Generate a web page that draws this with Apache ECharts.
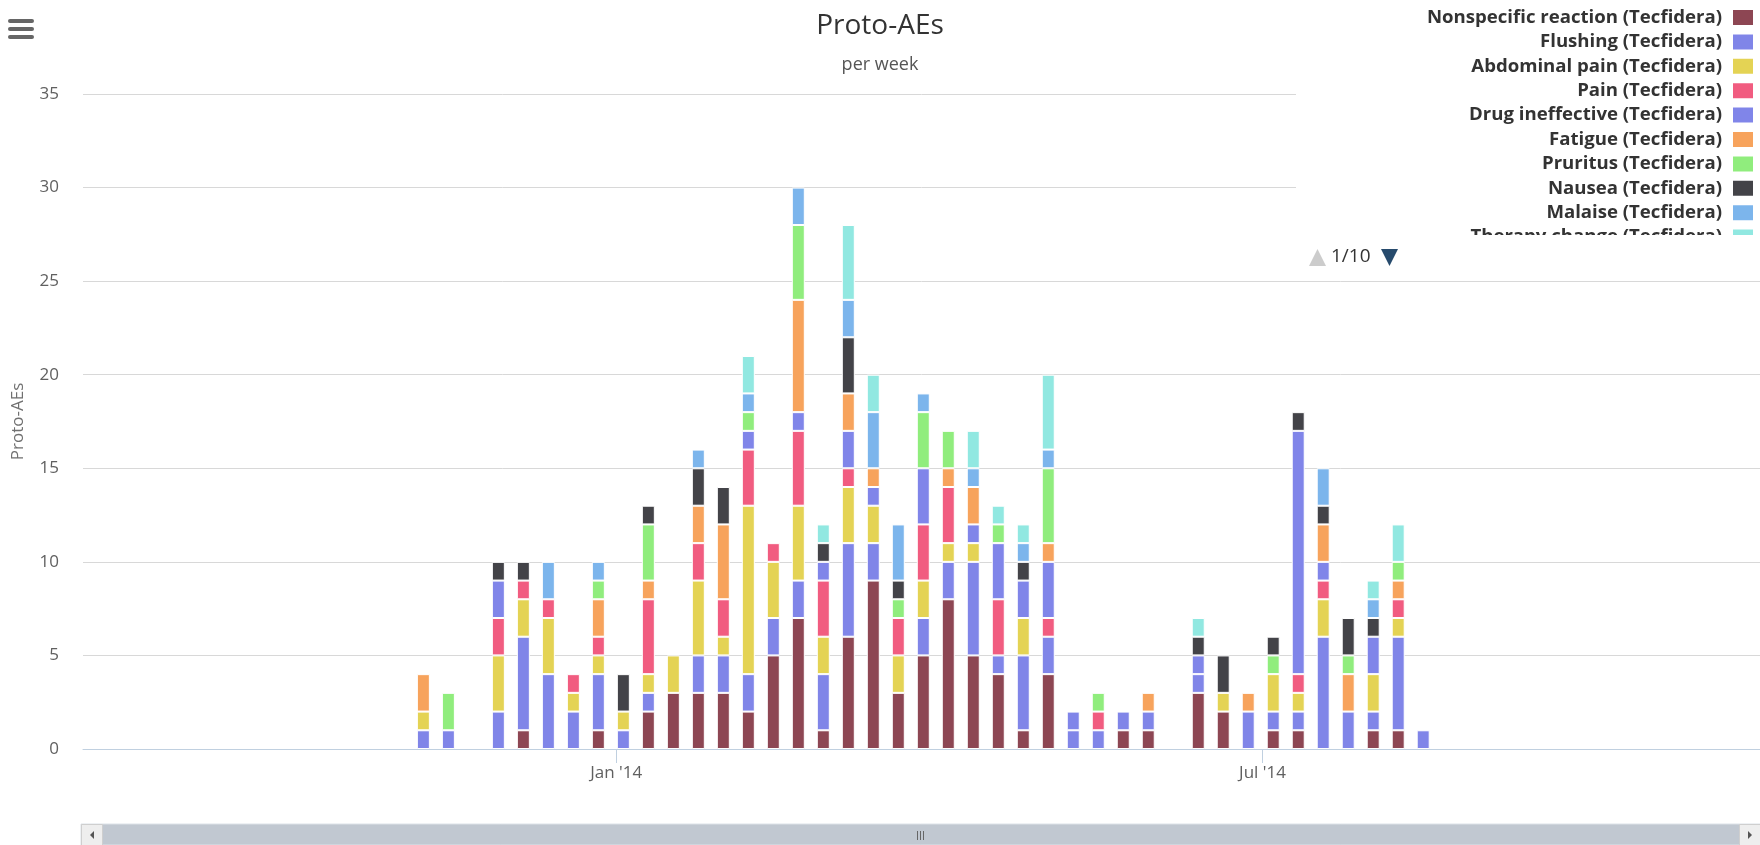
<!DOCTYPE html>
<html>
<head>
<meta charset="utf-8">
<script src="https://cdn.jsdelivr.net/npm/echarts@6.0.0/dist/echarts.min.js"></script>
<style>
  html, body { margin: 0; padding: 0; background: #fff; }
  #chart { width: 1760px; height: 845px; }
</style>
</head>
<body>
<div id="chart"></div>
<script>
// ---- data (weekly counts) ----
const weeks = ['2013-11-08','2013-11-15','2013-11-22','2013-11-29','2013-12-06','2013-12-13','2013-12-20','2013-12-27',
  '2014-01-03','2014-01-10','2014-01-17','2014-01-24','2014-01-31','2014-02-07','2014-02-14','2014-02-21','2014-02-28',
  '2014-03-07','2014-03-14','2014-03-21','2014-03-28','2014-04-04','2014-04-11','2014-04-18','2014-04-25',
  '2014-05-02','2014-05-09','2014-05-16','2014-05-23','2014-05-30','2014-06-06','2014-06-13','2014-06-20','2014-06-27',
  '2014-07-04','2014-07-11','2014-07-18','2014-07-25','2014-08-01','2014-08-08','2014-08-15'];

const nonspecificReaction = [0,0,0,0,1,0,0,1,0,2,3,3,3,2,5,7,1,6,9,3,5,8,5,4,1,4,0,0,1,1,0,3,2,0,1,1,0,0,1,1,0];
const flushing            = [1,1,0,2,5,4,2,3,1,1,0,2,2,2,2,2,3,5,2,0,2,2,5,1,4,2,1,1,1,1,0,1,0,2,1,1,6,2,1,5,1];
const abdominalPain       = [1,0,0,3,2,3,1,1,1,1,2,4,1,9,3,4,2,3,2,2,2,1,1,0,2,0,0,0,0,0,0,0,1,0,2,1,2,0,2,1,0];
const pain                = [0,0,0,2,1,1,1,1,0,4,0,2,2,3,1,4,3,1,0,2,3,3,0,3,0,1,0,1,0,0,0,0,0,0,0,1,1,0,0,1,0];
const drugIneffective     = [0,0,0,2,0,0,0,0,0,0,0,0,0,1,0,1,1,2,1,0,3,0,1,3,2,3,1,0,0,0,0,1,0,0,0,13,1,0,2,0,0];
const fatigue             = [2,0,0,0,0,0,0,2,0,1,0,2,4,0,0,6,0,2,1,0,0,1,2,0,0,1,0,0,0,1,0,0,0,1,0,0,2,2,0,1,0];
const pruritus            = [0,2,0,0,0,0,0,1,0,3,0,0,0,1,0,4,0,0,0,1,3,2,0,1,0,4,0,1,0,0,0,0,0,0,1,0,0,1,0,1,0];
const nausea              = [0,0,0,1,1,0,0,0,2,1,0,2,2,0,0,0,1,3,0,1,0,0,0,0,1,0,0,0,0,0,0,1,2,0,1,1,1,2,1,0,0];
const malaise             = [0,0,0,0,0,2,0,1,0,0,0,1,0,1,0,2,0,2,3,3,1,0,1,0,1,1,0,0,0,0,0,0,0,0,0,0,2,0,1,0,0];
const therapyChange       = [0,0,0,0,0,0,0,0,0,0,0,0,0,2,0,0,1,4,2,0,0,0,2,1,1,4,0,0,0,0,0,1,0,0,0,0,0,0,1,2,0];

const seriesNames = ['Nonspecific reaction (Tecfidera)','Flushing (Tecfidera)','Abdominal pain (Tecfidera)','Pain (Tecfidera)',
  'Drug ineffective (Tecfidera)','Fatigue (Tecfidera)','Pruritus (Tecfidera)','Nausea (Tecfidera)','Malaise (Tecfidera)',
  'Therapy change (Tecfidera)'];
const seriesColors = ['#8d4653','#8085e8','#e4d354','#f15c80','#8085e9','#f7a35c','#90ed7d','#434348','#7cb5ec','#91e8e1'];
const seriesValues = [nonspecificReaction, flushing, abdominalPain, pain, drugIneffective, fatigue, pruritus, nausea, malaise, therapyChange];

const xTickDates = ['2014-01-01', '2014-07-01'];
const yTicks = [0, 5, 10, 15, 20, 25, 30, 35];

const FONT = 'Open Sans';
const chart = echarts.init(document.getElementById('chart'), null, { renderer: 'canvas' });

const series = seriesNames.map((name, k) => ({
  name: name,
  type: 'bar',
  stack: 'total',
  barWidth: 13,
  itemStyle: { color: seriesColors[k], borderColor: '#ffffff', borderWidth: 1 },
  emphasis: { disabled: true },
  data: weeks.map((d, i) => [d, seriesValues[k][i] || null])
}));

const W = 1760;
const graphic = [
  // hamburger menu
  { type: 'rect', left: 8, top: 19, shape: { width: 26, height: 4, r: 2 }, style: { fill: '#666' }, z: 50 },
  { type: 'rect', left: 8, top: 27, shape: { width: 26, height: 4, r: 2 }, style: { fill: '#666' }, z: 50 },
  { type: 'rect', left: 8, top: 35, shape: { width: 26, height: 4, r: 2 }, style: { fill: '#666' }, z: 50 },
  // legend box background (hides grid lines behind legend)
  { type: 'rect', shape: { x: 1296, y: 0, width: W - 1296, height: 274 }, style: { fill: '#fff' }, z: 1 },
  // legend clip for the partially visible item
  { type: 'rect', shape: { x: 1296, y: 235, width: W - 1296, height: 12 }, style: { fill: '#fff' }, z: 100 },
  // legend pager
  { type: 'polygon', shape: { points: [[1317.5, 249], [1326, 266], [1309, 266]] }, style: { fill: '#cccccc' }, z: 101 },
  { type: 'text', style: { x: 1331, y: 257, text: '1/10', fill: '#333', font: '19px "' + FONT + '"', verticalAlign: 'middle' }, z: 101 },
  { type: 'polygon', shape: { points: [[1381, 249], [1398, 249], [1389.5, 266]] }, style: { fill: '#274b6d' }, z: 101 },
  // scrollbar
  { type: 'rect', shape: { x: 81, y: 824, width: W - 81, height: 21 }, style: { fill: '#c1c8d1', stroke: '#dde2e8', lineWidth: 1 }, z: 50 },
  { type: 'rect', shape: { x: 81.5, y: 824.5, width: 21, height: 21 }, style: { fill: '#eeeeee', stroke: '#cfcfcf', lineWidth: 1 }, z: 51 },
  { type: 'polygon', shape: { points: [[90, 835], [94, 831], [94, 839]] }, style: { fill: '#555' }, z: 52 },
  { type: 'rect', shape: { x: 1739.5, y: 824.5, width: 21, height: 21 }, style: { fill: '#eeeeee', stroke: '#cfcfcf', lineWidth: 1 }, z: 51 },
  { type: 'polygon', shape: { points: [[1752, 835], [1748, 831], [1748, 839]] }, style: { fill: '#555' }, z: 52 },
  { type: 'line', shape: { x1: 917.5, y1: 831, x2: 917.5, y2: 840 }, style: { stroke: '#666', lineWidth: 1 }, z: 52 },
  { type: 'line', shape: { x1: 920.5, y1: 831, x2: 920.5, y2: 840 }, style: { stroke: '#666', lineWidth: 1 }, z: 52 },
  { type: 'line', shape: { x1: 923.5, y1: 831, x2: 923.5, y2: 840 }, style: { stroke: '#666', lineWidth: 1 }, z: 52 }
];

chart.setOption({
  animation: false,
  backgroundColor: '#ffffff',
  title: {
    text: 'Proto-AEs',
    subtext: 'per week',
    left: 'center',
    top: 5,
    itemGap: 12,
    textStyle: { fontFamily: FONT, fontSize: 28, fontWeight: 'normal', color: '#333333', lineHeight: 32 },
    subtextStyle: { fontFamily: FONT, fontSize: 18, color: '#555555', lineHeight: 22 }
  },
  legend: {
    orient: 'vertical',
    right: 5,
    top: 8,
    padding: 0,
    align: 'right',
    icon: 'rect',
    itemWidth: 22,
    itemHeight: 17,
    itemGap: 5.4,
    selectedMode: false,
    data: seriesNames,
    textStyle: { fontFamily: FONT, fontWeight: 'bold', fontSize: 18.6, color: '#333333', lineHeight: 18, padding: [0, 5, 0, 0] }
  },
  grid: { left: 83, right: 0, top: 94, bottom: 96, containLabel: false },
  xAxis: {
    type: 'time',
    min: '2013-08-06 12:00',
    max: '2014-11-15 12:00',
    axisLine: { show: true, lineStyle: { color: '#c0d0e0', width: 1 } },
    axisTick: { show: true, length: 14, lineStyle: { color: '#c0d0e0' }, customValues: xTickDates.map(d => +echarts.time.parse(d)) },
    axisLabel: {
      customValues: xTickDates.map(d => +echarts.time.parse(d)),
      formatter: "{MMM} '{yy}",
      fontFamily: FONT, fontSize: 17, color: '#606060', margin: 16
    },
    splitLine: { show: false }
  },
  yAxis: {
    type: 'value',
    min: yTicks[0],
    max: yTicks[yTicks.length - 1],
    interval: 5,
    name: 'Proto-AEs',
    nameLocation: 'middle',
    nameGap: 56,
    nameTextStyle: { fontFamily: FONT, fontSize: 17, color: '#707070' },
    axisLine: { show: false },
    axisTick: { show: false },
    axisLabel: { fontFamily: FONT, fontSize: 17, color: '#606060', margin: 24 },
    splitLine: { show: true, lineStyle: { color: '#d8d8d8', width: 1 } }
  },
  graphic: graphic,
  series: series
});
</script>
</body>
</html>
